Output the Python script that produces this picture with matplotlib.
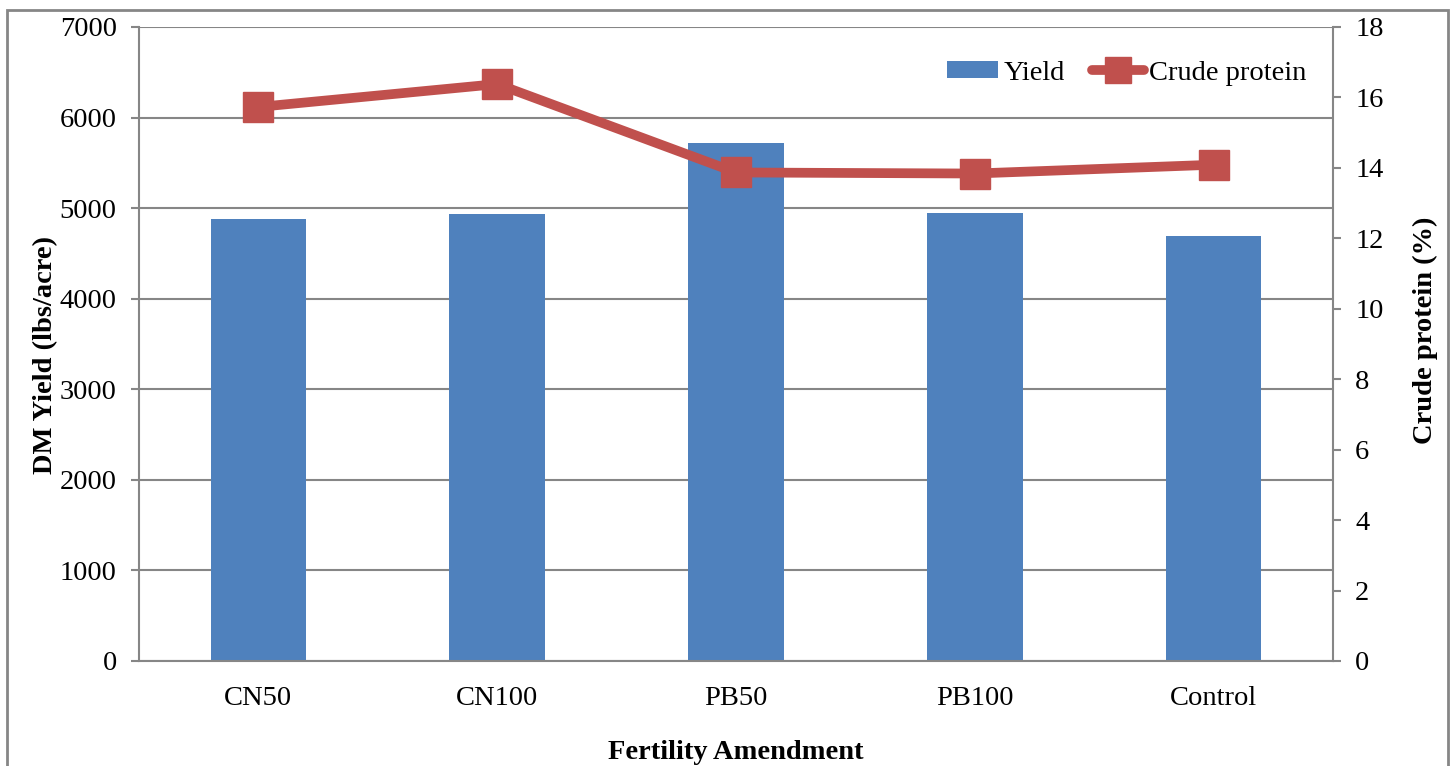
import matplotlib
matplotlib.use("Agg")
import matplotlib.pyplot as plt
from matplotlib.patches import Rectangle
import numpy as np

categories = ["CN50", "CN100", "PB50", "PB100", "Control"]
yield_vals = [4880, 4935, 5716, 4946, 4692]
protein_vals = [15.73, 16.38, 13.87, 13.84, 14.09]
left_ticks = [0, 1000, 2000, 3000, 4000, 5000, 6000, 7000]
right_ticks = [0, 2, 4, 6, 8, 10, 12, 14, 16, 18]

plt.rcParams['font.family'] = ['Liberation Serif', 'DejaVu Serif']

gray = '#868686'
bar_color = '#4F81BD'
line_color = '#C0504D'
fs = 20.5

fig = plt.figure(figsize=(14.55, 7.66), dpi=100)
ax = fig.add_axes([139/1455, 1-661/766, (1333-139)/1455, (661-27)/766])

x = np.arange(len(categories))
ax.bar(x, yield_vals, width=0.4, color=bar_color, zorder=2, label='Yield')
ax.set_xlim(-0.5, len(categories)-0.5)
ax.set_ylim(0, 7000)
ax.set_yticks(left_ticks)
ax.set_xticks(x)
ax.set_xticklabels(categories, fontsize=fs)
ax.tick_params(axis='x', length=0, pad=18)
ax.tick_params(axis='y', length=6, width=1.5, color=gray, labelsize=fs, pad=10)
ax.yaxis.grid(True, color=gray, linewidth=1.5, zorder=0)
ax.set_axisbelow(True)
for s in ['top', 'right']:
    ax.spines[s].set_visible(False)
ax.spines['left'].set_color(gray)
ax.spines['left'].set_linewidth(1.5)
ax.spines['bottom'].set_color(gray)
ax.spines['bottom'].set_linewidth(1.5)
ax.set_ylabel('DM Yield (lbs/acre)', fontsize=fs, fontweight='bold', labelpad=1)
ax.yaxis.label.set_y(0.482)
ax.set_xlabel('Fertility Amendment', fontsize=fs, fontweight='bold', labelpad=21)

ax2 = ax.twinx()
ax2.plot(x, protein_vals, color=line_color, linewidth=7, marker='s', markersize=22,
         zorder=3, label='Crude protein', solid_capstyle='round')
ax2.set_ylim(0, 18)
ax2.set_yticks(right_ticks)
ax2.tick_params(axis='y', length=6, width=1.5, color=gray, labelsize=fs, pad=10)
for s in ['top', 'left', 'bottom']:
    ax2.spines[s].set_visible(False)
ax2.spines['right'].set_color(gray)
ax2.spines['right'].set_linewidth(1.5)
ax2.set_ylabel('Crude protein (%)', fontsize=fs, fontweight='bold', labelpad=21)
ax2.yaxis.label.set_y(0.522)

h1, l1 = ax.get_legend_handles_labels()
h2, l2 = ax2.get_legend_handles_labels()
leg = ax2.legend(h1 + h2, l1 + l2, loc='upper right', bbox_to_anchor=(0.978, 0.947),
                 frameon=False, fontsize=fs, ncol=2, handlelength=1.8,
                 handletextpad=0.2, columnspacing=0.95, markerscale=0.85,
                 handleheight=0.5, borderaxespad=0, borderpad=0)

fig.patches.append(Rectangle((7/1455, -0.05), (1448-7)/1455, 1.05 - 10/766,
                             transform=fig.transFigure, fill=False,
                             edgecolor=gray, linewidth=2))

fig.savefig('out.png', dpi=100)
